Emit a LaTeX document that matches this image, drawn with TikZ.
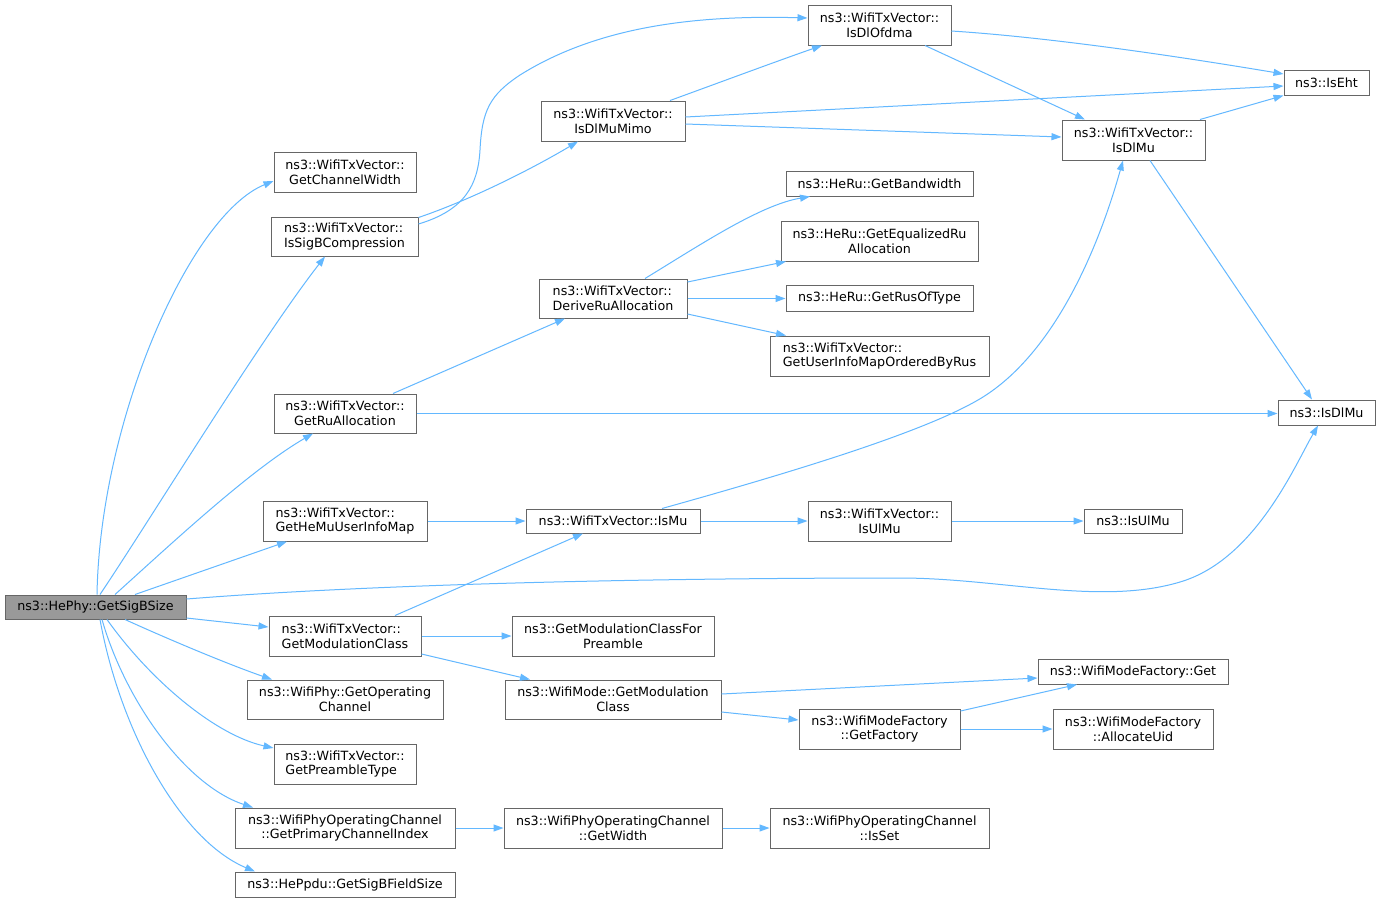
\documentclass[tikz,border=0pt]{standalone}
\usepackage{fontspec}
\setmainfont{DejaVu Sans}
\usetikzlibrary{arrows.meta}
\definecolor{edgec}{HTML}{63B8FF}
\definecolor{boxc}{HTML}{666666}
\definecolor{mainfill}{HTML}{999999}
\tikzset{
  fn/.style={draw=boxc, line width=1pt, fill=white, inner sep=0pt, align=center,
    font=\fontsize{12.7}{14.7}\selectfont},
  fnl/.style={fn, align=left},
  mainbox/.style={fn, fill=mainfill},
  call/.style={draw=edgec, line width=1pt, -{Triangle[length=10pt,width=7pt]}},
}
\newcommand{\fnbox}[6][fn]{\node[#1, minimum width=#4pt, minimum height=#5pt] (#2) at (#3) {#6};}
\begin{document}
\begin{tikzpicture}[x=1pt,y=-1pt]
\fill[white] (0,0) rectangle (1381,903);
\useasboundingbox (0,0) rectangle (1381,903);
% nodes
\fnbox[mainbox]{main}{95.5,607}{181}{24}{ns3::HePhy::GetSigBSize}
\fnbox{cw}{345,172}{142}{40}{ns3::WifiTxVector::\\GetChannelWidth}
\fnbox[fnl]{sigb}{344.5,236.5}{147}{39}{ns3::WifiTxVector::\\IsSigBCompression}
\fnbox{rua}{345,413.5}{142}{39}{ns3::WifiTxVector::\\GetRuAllocation}
\fnbox[fnl]{hemu}{345,521}{164}{40}{ns3::WifiTxVector::\\GetHeMuUserInfoMap}
\fnbox[fnl]{gmc}{345,636}{152}{40}{ns3::WifiTxVector::\\GetModulationClass}
\fnbox{goc}{345,699.5}{196}{39}{ns3::WifiPhy::GetOperating\\Channel}
\fnbox[fnl]{gpt}{345,764}{142}{40}{ns3::WifiTxVector::\\GetPreambleType}
\fnbox{pci}{345,828}{220}{40}{ns3::WifiPhyOperatingChannel\\::GetPrimaryChannelIndex}
\fnbox{sbf}{345,884.5}{220}{25}{ns3::HePpdu::GetSigBFieldSize}
\fnbox{mimo}{613,121}{144}{40}{ns3::WifiTxVector::\\IsDlMuMimo}
\fnbox[fnl]{dra}{613,298.5}{148}{39}{ns3::WifiTxVector::\\DeriveRuAllocation}
\fnbox{ismu}{613,521}{174}{24}{ns3::WifiTxVector::IsMu}
\fnbox{gmcp}{613,636}{202}{40}{ns3::GetModulationClassFor\\Preamble}
\fnbox{wmgmc}{613,699.5}{216}{39}{ns3::WifiMode::GetModulation\\Class}
\fnbox{gw}{613,828}{218}{40}{ns3::WifiPhyOperatingChannel\\::GetWidth}
\fnbox{ofdma}{879.5,25}{143}{40}{ns3::WifiTxVector::\\IsDlOfdma}
\fnbox{bw}{879.5,183.5}{187}{25}{ns3::HeRu::GetBandwidth}
\fnbox{eq}{879.5,241}{197}{40}{ns3::HeRu::GetEqualizedRu\\Allocation}
\fnbox{rus}{879.5,298}{187}{26}{ns3::HeRu::GetRusOfType}
\fnbox[fnl]{uimap}{879.5,356}{219}{40}{ns3::WifiTxVector::\\GetUserInfoMapOrderedByRus}
\fnbox{ulmu}{879.5,521}{143}{40}{ns3::WifiTxVector::\\IsUlMu}
\fnbox{gf}{879.5,729}{161}{40}{ns3::WifiModeFactory\\::GetFactory}
\fnbox{isset}{879.5,828}{219}{40}{ns3::WifiPhyOperatingChannel\\::IsSet}
\fnbox{dlmu}{1133.5,140}{143}{40}{ns3::WifiTxVector::\\IsDlMu}
\fnbox{isulmu}{1133,521}{98}{24}{ns3::IsUlMu}
\fnbox{mfget}{1133,671.5}{190}{25}{ns3::WifiModeFactory::Get}
\fnbox{auid}{1133,729}{160}{40}{ns3::WifiModeFactory\\::AllocateUid}
\fnbox{iseht}{1326.5,82.5}{85}{25}{ns3::IsEht}
\fnbox{isdlmu}{1326.5,412.5}{97}{25}{ns3::IsDlMu}
% edges from main
\draw[call] ([shift={(1.5,0)}]main.north) .. controls (100,420) and (190,215) .. ([shift={(0,9)}]cw.west);
\draw[call] ([shift={(4.5,0)}]main.north) .. controls (150,520) and (260,340) .. ([shift={(-19.5,0)}]sigb.south);
\draw[call] ([shift={(19.5,0)}]main.north) .. controls (170,545) and (250,470) .. ([shift={(-32,0)}]rua.south);
\draw[call] ([shift={(39.5,0)}]main.north) -- ([shift={(-58,0)}]hemu.south);
\draw[call] ([shift={(0,-8)}]main.east) .. controls (400,582) and (700,578) .. (900,578)
   .. controls (1000,578) and (1100,606) .. (1180,582)
   .. controls (1255,560) and (1295,465) .. ([shift={(-8.5,0)}]isdlmu.south);
\draw[call] ([shift={(0,11)}]main.east) -- ([shift={(0,-9)}]gmc.west);
\draw[call] ([shift={(29.5,0)}]main.south) .. controls (170,640) and (230,665) .. ([shift={(-73,0)}]goc.north);
\draw[call] ([shift={(11.5,0)}]main.south) .. controls (150,680) and (215,735) .. ([shift={(0,-16)}]gpt.west);
\draw[call] ([shift={(6.5,0)}]main.south) .. controls (125,700) and (185,785) .. ([shift={(-92,0)}]pci.north);
\draw[call] ([shift={(4.5,0)}]main.south) .. controls (120,730) and (180,840) .. ([shift={(-90,0)}]sbf.north);
% IsSigBCompression
\draw[call] ([shift={(0,-19)}]sigb.east) .. controls (470,200) and (530,170) .. ([shift={(-35,0)}]mimo.south);
\draw[call] ([shift={(0,-12.5)}]sigb.east) .. controls (465,210) and (478,185) .. (480,150)
   .. controls (482,110) and (490,95) .. (520,75)
   .. controls (600,25) and (700,15) .. ([shift={(0,-7)}]ofdma.west);
% IsDlMuMimo
\draw[call] ([shift={(57,0)}]mimo.north) .. controls (710,86) and (780,60) .. ([shift={(-57.5,0)}]ofdma.south);
\draw[call] ([shift={(0,-4)}]mimo.east) -- ([shift={(0,3.5)}]iseht.west);
\draw[call] ([shift={(0,3)}]mimo.east) -- ([shift={(0,-3)}]dlmu.west);
% IsDlOfdma
\draw[call] ([shift={(0,6)}]ofdma.east) .. controls (1060,38) and (1200,60) .. ([shift={(0,-8.5)}]iseht.west);
\draw[call] ([shift={(45.5,0)}]ofdma.south) -- ([shift={(-48.5,0)}]dlmu.north);
% WifiTxVector::IsDlMu
\draw[call] ([shift={(66.5,0)}]dlmu.north) -- (iseht.south west);
\draw[call] ([shift={(16.5,0)}]dlmu.south) -- ([shift={(-14.5,0)}]isdlmu.north);
% GetRuAllocation
\draw[call] ([shift={(48,0)}]rua.north) -- ([shift={(-48,0)}]dra.south);
\draw[call] (rua.east) -- (rua.east -| isdlmu.west);
% DeriveRuAllocation
\draw[call] ([shift={(32,0)}]dra.north) .. controls (700,245) and (760,205) .. ([shift={(-69.5,0)}]bw.south);
\draw[call] ([shift={(0,-16.5)}]dra.east) -- ([shift={(-93.5,0)}]eq.south);
\draw[call] (dra.east) -- (dra.east -| rus.west);
\draw[call] ([shift={(0,15.5)}]dra.east) -- ([shift={(-93.5,0)}]uimap.north);
% IsMu chain
\draw[call] (hemu.east) -- (ismu.west);
\draw[call] (ismu.east) -- (ulmu.west);
\draw[call] (ulmu.east) -- (ulmu.east -| isulmu.west);
\draw[call] ([shift={(49,0)}]ismu.north) .. controls (800,470) and (930,430) .. (983,397)
   .. controls (1050,355) and (1095,260) .. ([shift={(-10.5,0)}]dlmu.south);
% GetModulationClass
\draw[call] ([shift={(50,0)}]gmc.north) -- ([shift={(-30,0)}]ismu.south);
\draw[call] (gmc.east) -- (gmcp.west);
\draw[call] ([shift={(0,18)}]gmc.east) -- ([shift={(-83,0)}]wmgmc.north);
% WifiMode::GetModulationClass
\draw[call] ([shift={(0,-5.5)}]wmgmc.east) -- ([shift={(0,6.5)}]mfget.west);
\draw[call] ([shift={(0,12.5)}]wmgmc.east) -- ([shift={(0,-9)}]gf.west);
% GetFactory
\draw[call] ([shift={(0,-18)}]gf.east) -- ([shift={(-56,0)}]mfget.south);
\draw[call] (gf.east) -- (auid.west);
% operating channel chain
\draw[call] (pci.east) -- (gw.west);
\draw[call] (gw.east) -- (isset.west);
\end{tikzpicture}
\end{document}
